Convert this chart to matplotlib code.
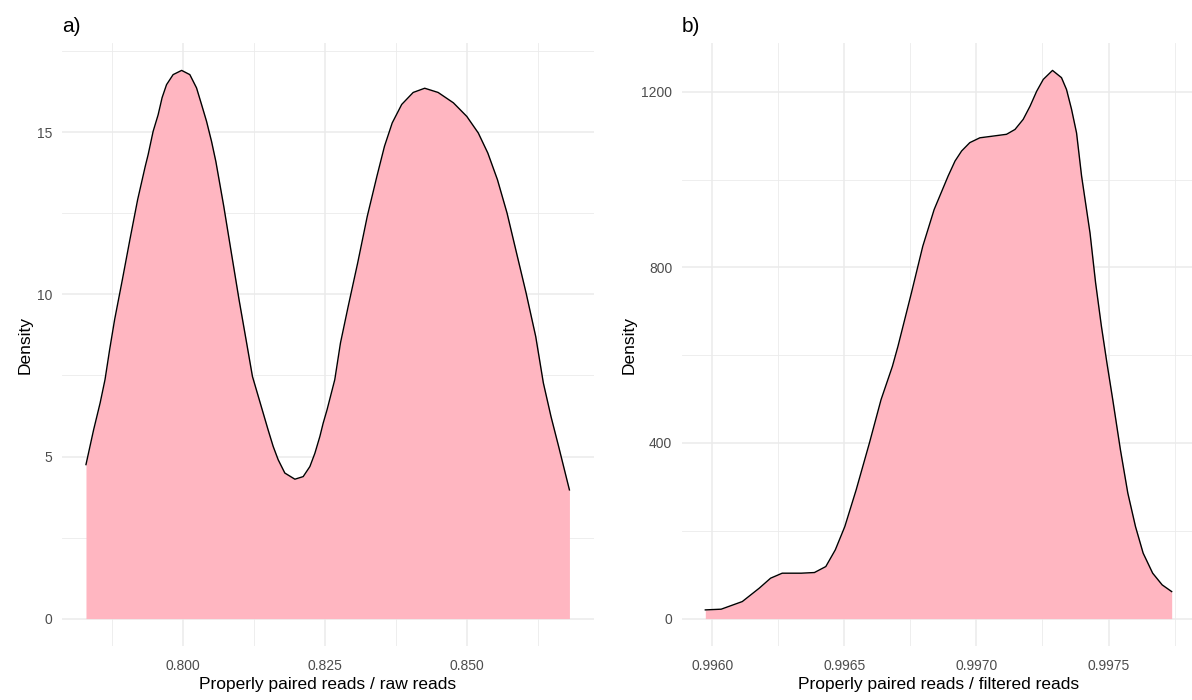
import numpy as np
import matplotlib.pyplot as plt
from matplotlib.ticker import FixedLocator, FixedFormatter

plt.rcParams['font.family'] = ['Liberation Sans', 'DejaVu Sans']

# panel a) density of properly paired / raw reads (values read off the picture)
raw_x = [0.78290, 0.78424, 0.78539, 0.78625, 0.78706, 0.78794, 0.78930, 0.79063,
         0.79199, 0.79333, 0.79384, 0.79472, 0.79560, 0.79630, 0.79708, 0.79824,
         0.79974, 0.80118, 0.80236, 0.80324, 0.80412, 0.80500, 0.80576, 0.80715,
         0.80849, 0.80984, 0.81118, 0.81220, 0.81496, 0.81585, 0.81673, 0.81790,
         0.81967, 0.82113, 0.82231, 0.82319, 0.82407, 0.82465, 0.82533, 0.82669,
         0.82769, 0.82905, 0.83072, 0.83241, 0.83410, 0.83544, 0.83680, 0.83847,
         0.84049, 0.84252, 0.84488, 0.84757, 0.84993, 0.85195, 0.85363, 0.85532,
         0.85701, 0.85868, 0.86037, 0.86206, 0.86340, 0.86475, 0.86609, 0.86799]
raw_y = [4.75, 5.82, 6.65, 7.37, 8.29, 9.22, 10.45, 11.69,
         12.92, 13.95, 14.31, 15.03, 15.54, 16.07, 16.47, 16.78,
         16.91, 16.78, 16.37, 15.86, 15.34, 14.72, 14.10, 12.72,
         11.28, 9.84, 8.50, 7.47, 5.82, 5.31, 4.90, 4.49,
         4.30, 4.38, 4.69, 5.10, 5.62, 6.03, 6.44, 7.37,
         8.50, 9.63, 10.97, 12.41, 13.64, 14.57, 15.29, 15.86,
         16.23, 16.36, 16.23, 15.91, 15.49, 14.98, 14.36, 13.54,
         12.51, 11.28, 10.04, 8.70, 7.27, 6.23, 5.31, 3.97]

# panel b) density of properly paired / filtered reads
filt_x = [0.995974, 0.996034, 0.996114, 0.996178, 0.996221, 0.996265, 0.996337,
          0.996387, 0.996430, 0.996466, 0.996502, 0.996545, 0.996595, 0.996639,
          0.996682, 0.996703, 0.996754, 0.996797, 0.996840, 0.996893, 0.996919,
          0.996944, 0.996975, 0.997013, 0.997064, 0.997114, 0.997146, 0.997177,
          0.997203, 0.997228, 0.997253, 0.997288, 0.997322, 0.997341, 0.997360,
          0.997379, 0.997398, 0.997430, 0.997451, 0.997473, 0.997494, 0.997516,
          0.997545, 0.997573, 0.997602, 0.997631, 0.997667, 0.997703, 0.997739]
filt_y = [19.8, 21.4, 38.8, 69.2, 92.0, 103.4, 103.4,
          104.9, 118.5, 156.6, 209.7, 293.4, 399.8, 498.5,
          574.4, 620, 741.7, 848, 931.6, 1008, 1042,
          1065, 1084, 1095, 1099, 1103, 1114, 1137,
          1167, 1201, 1228, 1248.5, 1232, 1205, 1160,
          1106, 1008, 878, 765, 666, 582, 498.5,
          384.5, 285.8, 209.7, 149.1, 103.5, 76.8, 61.5]

panels = [
    dict(x=raw_x, y=raw_y, title='a)', xlabel='Properly paired reads / raw reads',
         xmajor=[0.800, 0.825, 0.850], xminor=[0.7875, 0.8125, 0.8375, 0.8625],
         xfmt='{:.3f}', ymajor=[0, 5, 10, 15], yminor=[2.5, 7.5, 12.5, 17.5],
         pos=[61.8 / 1192, 54 / 700, 531.8 / 1192, 603 / 700]),
    dict(x=filt_x, y=filt_y, title='b)', xlabel='Properly paired reads / filtered reads',
         xmajor=[0.9960, 0.9965, 0.9970, 0.9975],
         xminor=[0.99625, 0.99675, 0.99725, 0.99775],
         xfmt='{:.4f}', ymajor=[0, 400, 800, 1200], yminor=[200, 600, 1000],
         pos=[682 / 1192, 54 / 700, 513 / 1192, 603 / 700]),
]

fig = plt.figure(figsize=(11.92, 7.0), dpi=100)

for p in panels:
    ax = fig.add_axes(p['pos'])
    x = np.array(p['x'])
    y = np.array(p['y'])
    ax.fill_between(x, 0, y, color='#FFB6C1', linewidth=0, zorder=2)
    ax.plot(x, y, color='black', linewidth=1.0, zorder=3, solid_joinstyle='round')

    # ggplot-like 5% expansion
    xr = x.max() - x.min()
    ax.set_xlim(x.min() - 0.05 * xr, x.max() + 0.05 * xr)
    ax.set_ylim(-0.05 * y.max(), 1.05 * y.max())

    ax.xaxis.set_major_locator(FixedLocator(p['xmajor']))
    ax.xaxis.set_major_formatter(FixedFormatter([p['xfmt'].format(v) for v in p['xmajor']]))
    ax.xaxis.set_minor_locator(FixedLocator(p['xminor']))
    ax.yaxis.set_major_locator(FixedLocator(p['ymajor']))
    ax.yaxis.set_minor_locator(FixedLocator(p['yminor']))

    ax.grid(True, which='major', color='#EBEBEB', linewidth=1.1, zorder=0)
    ax.grid(True, which='minor', color='#EBEBEB', linewidth=0.6, zorder=0)
    ax.set_axisbelow(True)
    for s in ax.spines.values():
        s.set_visible(False)
    ax.tick_params(which='both', length=0)
    ax.tick_params(axis='x', labelsize=10, labelcolor='#4D4D4D', pad=9)
    ax.tick_params(axis='y', labelsize=10, labelcolor='#4D4D4D', pad=7)

    ax.set_xlabel(p['xlabel'], fontsize=12.5, labelpad=3)
    ax.set_ylabel('Density', fontsize=12.5, labelpad=3)
    ax.set_title(p['title'], loc='left', fontsize=15, pad=8)

fig.savefig('out.png', dpi=100)
